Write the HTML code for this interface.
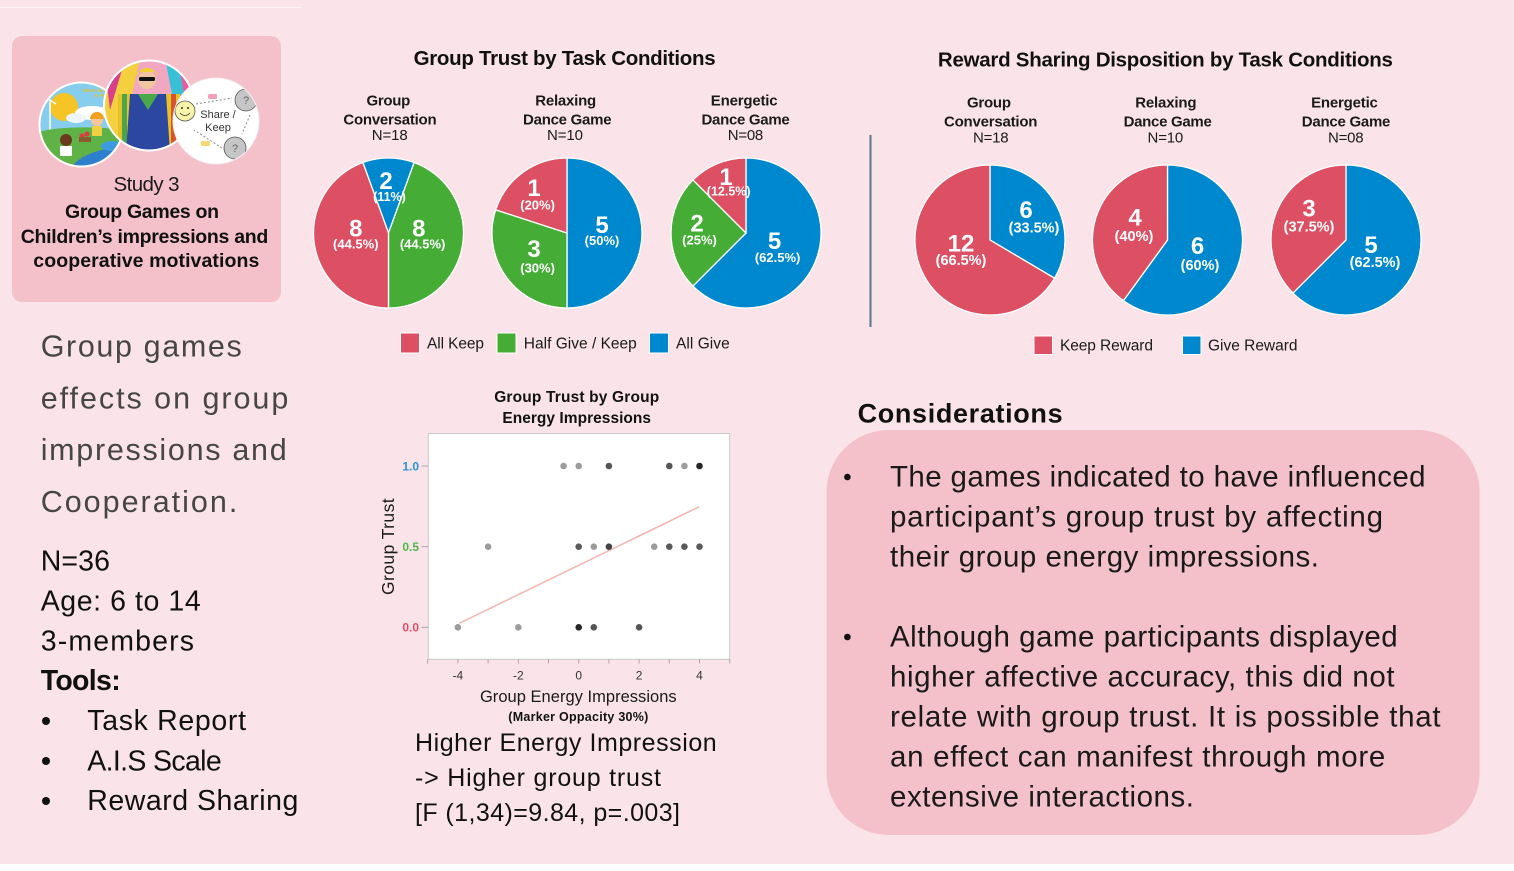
<!DOCTYPE html>
<html><head><meta charset="utf-8"><style>
html,body{margin:0;padding:0;background:#fae4e9;}
svg{display:block;}
</style></head><body>
<svg width="1514" height="871" viewBox="0 0 1514 871" xmlns="http://www.w3.org/2000/svg" font-family="'Liberation Sans', sans-serif">
<defs>
<clipPath id="c1"><circle cx="81.5" cy="124.5" r="42"/></clipPath>
<clipPath id="c2"><circle cx="149" cy="105.5" r="45"/></clipPath>
<clipPath id="c3"><circle cx="216" cy="121" r="43"/></clipPath>
</defs>
<rect width="1514" height="871" fill="#fae4e9"/>
<rect x="0" y="864" width="1514" height="7" fill="#ffffff"/>
<line x1="0" y1="7.5" x2="302" y2="7.5" stroke="#fdf1f4" stroke-width="1"/>

<!-- Card -->
<rect x="12" y="36" width="269" height="266" rx="10" fill="#f4c1cb"/>

<!-- circle 1 -->
<g clip-path="url(#c1)">
<rect x="38" y="80" width="90" height="90" fill="#86cdee"/>
<circle cx="64" cy="107" r="14" fill="#f6c425"/>
<ellipse cx="92" cy="113" rx="17" ry="7" fill="#ffffff"/>
<ellipse cx="76" cy="118" rx="10" ry="5" fill="#eef6fb"/>
<line x1="50" y1="100" x2="50" y2="135" stroke="#ffffff" stroke-width="1.5"/>
<line x1="44" y1="96" x2="56" y2="104" stroke="#ffffff" stroke-width="1.5"/>
<path d="M38 132 Q70 124 128 130 L128 170 L38 170 Z" fill="#5fb246"/>
<path d="M70 170 Q80 150 128 146 L128 170 Z" fill="#2f7fcf"/>
<ellipse cx="112" cy="146" rx="11" ry="5" fill="#3d9be0"/>
<circle cx="97" cy="120" r="6" fill="#f4c69a"/>
<path d="M90 119 A7 7 0 0 1 104 119 Z" fill="#f2a020"/>
<rect x="92" y="126" width="10" height="10" fill="#f0d040"/>
<circle cx="66" cy="140" r="6" fill="#6b3a1e"/>
<rect x="60" y="146" width="12" height="10" fill="#ffffff"/>
<circle cx="82" cy="136" r="2.5" fill="#e03a3a"/>
<circle cx="87" cy="134" r="2.5" fill="#e03a3a"/>
<rect x="79" y="137" width="12" height="5" fill="#8a5a30"/>
<text x="100" y="92" font-size="4.5" font-weight="bold" fill="#e8c020" text-anchor="middle">What role would</text>
<text x="104" y="97" font-size="4.5" font-weight="bold" fill="#e8c020" text-anchor="middle">to Play in</text>
</g>
<circle cx="81.5" cy="124.5" r="42" fill="none" stroke="#ffffff" stroke-width="2"/>

<!-- circle 2 -->
<g clip-path="url(#c2)">
<rect x="100" y="58" width="100" height="100" fill="#f1a7c1"/>
<polygon points="100,58 140,58 118,158 100,158" fill="#f4d03f"/>
<polygon points="165,58 200,58 200,130 175,110" fill="#37c0d6"/>
<polygon points="104,60 125,60 110,110" fill="#d9408a"/>
<polygon points="178,60 196,80 185,100" fill="#e95c9c"/>
<rect x="118" y="94" width="16" height="60" fill="#e6c229"/>
<rect x="122" y="94" width="5" height="60" fill="#4aa54a"/>
<rect x="164" y="94" width="16" height="60" fill="#e6c229"/>
<rect x="171" y="94" width="5" height="60" fill="#d9532e"/>
<path d="M130 94 L166 94 L170 152 L126 152 Z" fill="#2c47a0"/>
<path d="M138 94 L148 110 L158 94 Z" fill="#49a84a"/>
<circle cx="147" cy="80" r="9" fill="#f0c5a0"/>
<path d="M137 78 A10 10 0 0 1 157 78 L157 72 L137 72 Z" fill="#f2d22e"/>
<rect x="139" y="77" width="16" height="4" rx="1.5" fill="#111"/>
</g>
<circle cx="149" cy="105.5" r="45" fill="none" stroke="#ffffff" stroke-width="2"/>

<!-- circle 3 -->
<circle cx="216" cy="121" r="43" fill="#ffffff"/>
<g clip-path="url(#c3)">
<circle cx="185" cy="111" r="10" fill="#f7f3a8" stroke="#555" stroke-width="0.8"/>
<circle cx="182" cy="108" r="1" fill="#333"/>
<circle cx="188" cy="108" r="1" fill="#333"/>
<path d="M180 113 Q185 118 190 113" fill="none" stroke="#333" stroke-width="0.8"/>
<circle cx="246" cy="100" r="11" fill="#c6c6c6" stroke="#555" stroke-width="0.8"/>
<text x="246" y="104" font-size="11" fill="#666" text-anchor="middle">?</text>
<circle cx="235" cy="148" r="11" fill="#c6c6c6" stroke="#555" stroke-width="0.8"/>
<text x="235" y="152" font-size="11" fill="#666" text-anchor="middle">?</text>
<path d="M196 104 L232 98" stroke="#888" stroke-width="1" stroke-dasharray="2,2" fill="none"/>
<path d="M250 115 L242 134" stroke="#888" stroke-width="1" stroke-dasharray="2,2" fill="none"/>
<path d="M222 148 L194 130" stroke="#888" stroke-width="1" stroke-dasharray="2,2" fill="none"/>
<rect x="208" y="94" width="9" height="5" rx="1.5" fill="#f1a0b8"/>
<rect x="201" y="141" width="9" height="5" rx="1.5" fill="#f3d870"/>
<text x="218" y="118" font-size="11" fill="#333" text-anchor="middle">Share /</text>
<text x="218" y="131" font-size="11" fill="#333" text-anchor="middle">Keep</text>
</g>
<circle cx="216" cy="121" r="43" fill="none" stroke="#f0f0f0" stroke-width="1"/>

<text x="146.5" y="191" font-size="20.5" fill="#1a1a1a" text-anchor="middle" textLength="66">Study 3</text>
<text x="142" y="218" font-size="19.5" font-weight="bold" fill="#111" text-anchor="middle" textLength="154">Group Games on</text>
<text x="144.5" y="243" font-size="19.5" font-weight="bold" fill="#111" text-anchor="middle" textLength="247.6">Children’s impressions and</text>
<text x="146.3" y="267" font-size="19.5" font-weight="bold" fill="#111" text-anchor="middle" textLength="226">cooperative motivations</text>

<!-- Left text block -->
<g font-size="30.5" fill="#464646">
<text x="40.7" y="356.7" textLength="201">Group games</text>
<text x="40.7" y="408.4" textLength="247.6">effects on group</text>
<text x="40.7" y="460.1" textLength="246">impressions and</text>
<text x="40.7" y="511.8" textLength="196.6">Cooperation.</text>
</g>
<g font-size="28.5" fill="#111">
<text x="40.7" y="570.6" textLength="69.3">N=36</text>
<text x="40.7" y="610.6" textLength="160">Age: 6 to 14</text>
<text x="40.7" y="650.3" textLength="153.3">3-members</text>
<text x="40.7" y="690" font-weight="bold" textLength="80">Tools:</text>
<text x="87.3" y="730" textLength="158.7">Task Report</text>
<text x="87.3" y="770.5" textLength="134.4">A.I.S Scale</text>
<text x="87.3" y="810" textLength="211">Reward Sharing</text>
</g>
<circle cx="46" cy="721" r="4" fill="#111"/>
<circle cx="46" cy="761" r="4" fill="#111"/>
<circle cx="46" cy="801" r="4" fill="#111"/>

<!-- Group Trust pies -->
<text x="564.6" y="65" font-size="20.5" font-weight="bold" fill="#111" text-anchor="middle" textLength="302">Group Trust by Task Conditions</text>
<g font-size="15" fill="#1a1a1a" text-anchor="middle">
<text x="388.4" y="105.5" font-weight="bold" textLength="43.7">Group</text>
<text x="390" y="124.5" font-weight="bold" textLength="93.3">Conversation</text>
<text x="389.7" y="140" textLength="36">N=18</text>
<text x="565.7" y="105.5" font-weight="bold" textLength="61">Relaxing</text>
<text x="567.3" y="124.5" font-weight="bold" textLength="88.5">Dance Game</text>
<text x="565" y="140" textLength="36">N=10</text>
<text x="744.2" y="105.5" font-weight="bold" textLength="66.8">Energetic</text>
<text x="745.6" y="124.5" font-weight="bold" textLength="88.2">Dance Game</text>
<text x="745.5" y="140" textLength="35.5">N=08</text>
</g>

<g stroke="#ffffff" stroke-width="1.3" stroke-linejoin="round">
<path d="M388.5 233 L362.85 162.52 A75 75 0 0 1 414.15 162.52 Z" fill="#0088ce"/>
<path d="M388.5 233 L414.15 162.52 A75 75 0 0 1 388.5 308 Z" fill="#45ad36"/>
<path d="M388.5 233 L388.5 308 A75 75 0 0 1 362.85 162.52 Z" fill="#dd5064"/>
<path d="M567 233 L567 158 A75 75 0 0 1 567 308 Z" fill="#0088ce"/>
<path d="M567 233 L567 308 A75 75 0 0 1 495.67 209.82 Z" fill="#45ad36"/>
<path d="M567 233 L495.67 209.82 A75 75 0 0 1 567 158 Z" fill="#dd5064"/>
<path d="M746 233 L746 158 A75 75 0 1 1 692.97 286.03 Z" fill="#0088ce"/>
<path d="M746 233 L692.97 286.03 A75 75 0 0 1 692.97 179.97 Z" fill="#45ad36"/>
<path d="M746 233 L692.97 179.97 A75 75 0 0 1 746 158 Z" fill="#dd5064"/>
</g>

<g fill="#ffffff" font-weight="bold" text-anchor="middle">
<text x="386" y="189" font-size="24">2</text>
<text x="389.5" y="201" font-size="12.5">(11%)</text>
<text x="355.8" y="236.5" font-size="24">8</text>
<text x="355.8" y="248.7" font-size="13">(44.5%)</text>
<text x="418.8" y="236.5" font-size="24">8</text>
<text x="422.6" y="248.7" font-size="13">(44.5%)</text>
<text x="534" y="196" font-size="24">1</text>
<text x="537.6" y="209.5" font-size="13">(20%)</text>
<text x="534" y="257" font-size="24">3</text>
<text x="537.6" y="272.5" font-size="13">(30%)</text>
<text x="602" y="233" font-size="24">5</text>
<text x="602" y="245" font-size="13">(50%)</text>
<text x="726" y="185" font-size="24">1</text>
<text x="728.7" y="195.5" font-size="12.5">(12.5%)</text>
<text x="697" y="231.5" font-size="24">2</text>
<text x="699.5" y="244.5" font-size="13">(25%)</text>
<text x="774.5" y="249" font-size="24">5</text>
<text x="777.6" y="262" font-size="13">(62.5%)</text>
</g>

<g stroke="#ffffff" stroke-width="1">
<rect x="400.5" y="333" width="19" height="20" fill="#dd5064"/>
<rect x="497" y="333" width="19" height="20" fill="#45ad36"/>
<rect x="649.5" y="333" width="19" height="20" fill="#0088ce"/>
</g>
<g font-size="15.5" fill="#1a1a1a">
<text x="427" y="348.5" textLength="57">All Keep</text>
<text x="523.8" y="348.5" textLength="113">Half Give / Keep</text>
<text x="676" y="348.5" textLength="53.7">All Give</text>
</g>

<line x1="870.5" y1="135" x2="870.5" y2="327" stroke="#5b7589" stroke-width="2"/>

<text x="1165.4" y="66.7" font-size="20.5" font-weight="bold" fill="#111" text-anchor="middle" textLength="455">Reward Sharing Disposition by Task Conditions</text>
<g font-size="15" fill="#1a1a1a" text-anchor="middle">
<text x="989" y="107.7" font-weight="bold" textLength="44">Group</text>
<text x="990.7" y="126.7" font-weight="bold" textLength="93.5">Conversation</text>
<text x="990.8" y="142.3" textLength="35.7">N=18</text>
<text x="1165.9" y="107.7" font-weight="bold" textLength="61.4">Relaxing</text>
<text x="1167.7" y="126.7" font-weight="bold" textLength="88.2">Dance Game</text>
<text x="1165.4" y="142.3" textLength="35.7">N=10</text>
<text x="1344.5" y="107.7" font-weight="bold" textLength="66.8">Energetic</text>
<text x="1346.1" y="126.7" font-weight="bold" textLength="88.6">Dance Game</text>
<text x="1345.8" y="142.3" textLength="35.7">N=08</text>
</g>

<g stroke="#ffffff" stroke-width="1.3" stroke-linejoin="round">
<path d="M990 240 L990 165 A75 75 0 0 1 1054.55 278.18 Z" fill="#0088ce"/>
<path d="M990 240 L1054.55 278.18 A75 75 0 1 1 990 165 Z" fill="#dd5064"/>
<path d="M1167.5 240 L1167.5 165 A75 75 0 1 1 1123.42 300.68 Z" fill="#0088ce"/>
<path d="M1167.5 240 L1123.42 300.68 A75 75 0 0 1 1167.5 165 Z" fill="#dd5064"/>
<path d="M1346 240 L1346 165 A75 75 0 1 1 1292.97 293.03 Z" fill="#0088ce"/>
<path d="M1346 240 L1292.97 293.03 A75 75 0 0 1 1346 165 Z" fill="#dd5064"/>
</g>

<g fill="#ffffff" font-weight="bold" text-anchor="middle">
<text x="1026" y="218" font-size="24">6</text>
<text x="1034" y="232.5" font-size="14.5">(33.5%)</text>
<text x="961" y="251.5" font-size="24">12</text>
<text x="961" y="265" font-size="14.5">(66.5%)</text>
<text x="1135" y="225.5" font-size="24">4</text>
<text x="1134" y="241" font-size="14.5">(40%)</text>
<text x="1197.5" y="254" font-size="24">6</text>
<text x="1200" y="270" font-size="14.5">(60%)</text>
<text x="1309" y="216.5" font-size="24">3</text>
<text x="1309" y="231.5" font-size="14.5">(37.5%)</text>
<text x="1371" y="253" font-size="24">5</text>
<text x="1375" y="267" font-size="14.5">(62.5%)</text>
</g>

<g stroke="#ffffff" stroke-width="1">
<rect x="1034" y="336" width="18.5" height="18.5" fill="#dd5064"/>
<rect x="1182.5" y="336" width="18.5" height="18.5" fill="#0088ce"/>
</g>
<g font-size="15.5" fill="#1a1a1a">
<text x="1060" y="350.5" textLength="93">Keep Reward</text>
<text x="1208" y="350.5" textLength="89.5">Give Reward</text>
</g>

<!-- Scatter -->
<text x="576.7" y="402" font-size="15.5" font-weight="bold" fill="#111" text-anchor="middle" textLength="165">Group Trust by Group</text>
<text x="576.7" y="423" font-size="15.5" font-weight="bold" fill="#111" text-anchor="middle" textLength="148.7">Energy Impressions</text>
<rect x="428.3" y="433.5" width="301.4" height="225.8" fill="#ffffff" stroke="#c8c8c8" stroke-width="1"/>
<g stroke="#a8a8a8" stroke-width="1">
<line x1="421.5" y1="466" x2="428.3" y2="466"/>
<line x1="421.5" y1="546.7" x2="428.3" y2="546.7"/>
<line x1="421.5" y1="627.3" x2="428.3" y2="627.3"/>
<line x1="427.7" y1="659.3" x2="427.7" y2="663.5"/>
<line x1="457.9" y1="659.3" x2="457.9" y2="663.5"/>
<line x1="488.1" y1="659.3" x2="488.1" y2="663.5"/>
<line x1="518.3" y1="659.3" x2="518.3" y2="663.5"/>
<line x1="548.5" y1="659.3" x2="548.5" y2="663.5"/>
<line x1="578.7" y1="659.3" x2="578.7" y2="663.5"/>
<line x1="608.9" y1="659.3" x2="608.9" y2="663.5"/>
<line x1="639.1" y1="659.3" x2="639.1" y2="663.5"/>
<line x1="669.3" y1="659.3" x2="669.3" y2="663.5"/>
<line x1="699.5" y1="659.3" x2="699.5" y2="663.5"/>
<line x1="729.7" y1="659.3" x2="729.7" y2="663.5"/>
</g>
<g font-size="12" font-weight="bold" text-anchor="end">
<text x="419" y="470.3" fill="#2a93d5">1.0</text>
<text x="419" y="551" fill="#4db848">0.5</text>
<text x="419" y="631.6" fill="#e0506a">0.0</text>
</g>
<g font-size="12" fill="#333" text-anchor="middle">
<text x="457.9" y="679.5">-4</text>
<text x="518.3" y="679.5">-2</text>
<text x="578.7" y="679.5">0</text>
<text x="639.1" y="679.5">2</text>
<text x="699.5" y="679.5">4</text>
</g>
<line x1="459.3" y1="623.3" x2="699.3" y2="506.7" stroke="#f4b8b0" stroke-width="1.6"/>
<g>
<circle cx="563.6" cy="466" r="3.3" fill="#9c9c9c"/>
<circle cx="578.7" cy="466" r="3.3" fill="#9c9c9c"/>
<circle cx="608.9" cy="466" r="3.3" fill="#555"/>
<circle cx="669.3" cy="466" r="3.3" fill="#555"/>
<circle cx="684.4" cy="466" r="3.3" fill="#9c9c9c"/>
<circle cx="699.5" cy="466" r="3.3" fill="#262626"/>
<circle cx="488.1" cy="546.7" r="3.3" fill="#9c9c9c"/>
<circle cx="578.7" cy="546.7" r="3.3" fill="#5a5a5a"/>
<circle cx="593.8" cy="546.7" r="3.3" fill="#9c9c9c"/>
<circle cx="608.9" cy="546.7" r="3.3" fill="#444"/>
<circle cx="654.2" cy="546.7" r="3.3" fill="#9c9c9c"/>
<circle cx="669.3" cy="546.7" r="3.3" fill="#5a5a5a"/>
<circle cx="684.4" cy="546.7" r="3.3" fill="#5a5a5a"/>
<circle cx="699.5" cy="546.7" r="3.3" fill="#5a5a5a"/>
<circle cx="457.9" cy="627.3" r="3.3" fill="#9c9c9c"/>
<circle cx="518.3" cy="627.3" r="3.3" fill="#9c9c9c"/>
<circle cx="578.7" cy="627.3" r="3.3" fill="#262626"/>
<circle cx="593.8" cy="627.3" r="3.3" fill="#555"/>
<circle cx="639.1" cy="627.3" r="3.3" fill="#555"/>
</g>
<text transform="translate(394,546.7) rotate(-90)" font-size="17.5" fill="#1a1a1a" text-anchor="middle" textLength="96.7">Group Trust</text>
<text x="578.3" y="702" font-size="16.5" fill="#1a1a1a" text-anchor="middle" textLength="196.7">Group Energy Impressions</text>
<text x="578.3" y="721" font-size="12.5" font-weight="bold" fill="#111" text-anchor="middle" textLength="140">(Marker Oppacity 30%)</text>

<g font-size="25" fill="#111">
<text x="415" y="751" textLength="301.7">Higher Energy Impression</text>
<text x="415" y="786" textLength="246">-&gt; Higher group trust</text>
<text x="415" y="821" textLength="265">[F (1,34)=9.84, p=.003]</text>
</g>

<!-- Considerations -->
<text x="857.6" y="422.3" font-size="27" font-weight="bold" fill="#111" textLength="205">Considerations</text>
<rect x="826.6" y="430" width="653" height="405" rx="62" ry="62" fill="#f4c1cb"/>
<circle cx="847.4" cy="477" r="3.3" fill="#111"/>
<circle cx="847.4" cy="637" r="3.3" fill="#111"/>
<g font-size="29.5" fill="#1a1a1a">
<text x="890" y="486.7" textLength="535.6">The games indicated to have influenced</text>
<text x="890" y="526.7" textLength="493">participant’s group trust by affecting</text>
<text x="890" y="566.7" textLength="429">their group energy impressions.</text>
<text x="890" y="646.7" textLength="507.7">Although game participants displayed</text>
<text x="890" y="686.7" textLength="504.6">higher affective accuracy, this did not</text>
<text x="890" y="726.7" textLength="550.6">relate with group trust. It is possible that</text>
<text x="890" y="766.7" textLength="495.3">an effect can manifest through more</text>
<text x="890" y="806.7" textLength="304">extensive interactions.</text>
</g>
</svg>
</body></html>
